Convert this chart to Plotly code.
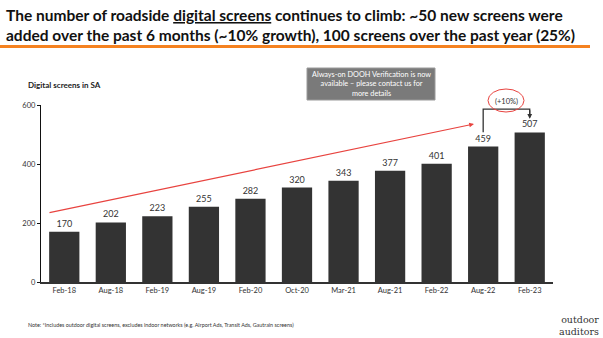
import plotly.graph_objects as go

categories = ["Feb-18", "Aug-18", "Feb-19", "Aug-19", "Feb-20", "Oct-20",
              "Mar-21", "Aug-21", "Feb-22", "Aug-22", "Feb-23"]
screens = [170, 202, 223, 255, 282, 320, 343, 377, 401, 459, 507]
y_ticks = [0, 200, 400, 600]

W, H = 603, 338
L, R, T, B = 41, 50, 105, 56
PW, PH = W - L - R, H - T - B


def px(x):
    return (x - L) / PW


def py(y):
    return (H - B - y) / PH


fig = go.Figure()
fig.add_trace(go.Bar(
    x=categories, y=screens, marker=dict(color="#333333", line=dict(width=0)),
    width=0.65, text=[str(v) for v in screens], textposition="outside",
    textfont=dict(family="Lato", size=9, color="#333333"), cliponaxis=False,
))

ann = []
# Title
ann.append(dict(xref="paper", yref="paper", x=px(4), y=py(4), xanchor="left", yanchor="top",
                align="left", showarrow=False,
                text="<b>The number of roadside <u>digital screens</u> continues to climb: ~50 new screens were<br>"
                     "added over the past 6 months (~10% growth), 100 screens over the past year (25%)</b>",
                font=dict(family="Lato", size=15.5, color="#111111")))
ann.append(dict(xref="paper", yref="paper", x=px(26), y=py(85), xanchor="left", yanchor="middle",
                showarrow=False, text="<b>Digital screens in SA</b>",
                font=dict(family="Lato", size=8, color="#222222")))
# Info box
ann.append(dict(xref="paper", yref="paper", x=px(371), y=py(84), xanchor="center", yanchor="middle",
                showarrow=False,
                text="Always-on DOOH Verification is now<br>available \u2013 please contact us for<br>more details",
                font=dict(family="Lato", size=7.3, color="#ffffff"), align="center"))
# Note
ann.append(dict(xref="paper", yref="paper", x=px(26), y=py(325), xanchor="left", yanchor="middle",
                showarrow=False,
                text="Note: *Includes outdoor digital screens, excludes indoor networks (e.g. Airport Ads, Transit Ads, Gautrain screens)",
                font=dict(family="Lato", size=5.4, color="#333333")))
# Logo
ann.append(dict(xref="paper", yref="paper", x=px(601), y=py(325), xanchor="right", yanchor="middle",
                showarrow=False, text="outdoor<br>auditors", align="right",
                font=dict(family="DejaVu Serif", size=9.5, color="#333333")))
# Growth label
ann.append(dict(xref="paper", yref="paper", x=px(506), y=py(101), xanchor="center", yanchor="middle",
                showarrow=False, text="(+10%)",
                font=dict(family="Lato", size=7.5, color="#333333")))
# Red trend arrow
ann.append(dict(xref="paper", yref="paper", x=px(474), y=py(124), ax=48 - 474, ay=213 - 124,
                axref="pixel", ayref="pixel", showarrow=True, text="",
                arrowhead=2, arrowsize=0.8, arrowwidth=1.2, arrowcolor="#e8433f"))
# Bracket arrowhead
ann.append(dict(xref="x", yref="y", x=categories[10], y=553, ax=0, ay=-10, text="",
                showarrow=True, arrowhead=2, arrowsize=0.8, arrowwidth=1.2, arrowcolor="#333333"))

shapes = []
# Orange rule under title
shapes.append(dict(type="rect", xref="paper", yref="paper", x0=px(0), x1=px(590), y0=py(48), y1=py(45),
                   fillcolor="#f58220", line=dict(width=0)))
# Info box
shapes.append(dict(type="rect", xref="paper", yref="paper", x0=px(307), x1=px(435), y0=py(100), y1=py(68),
                   fillcolor="#7a7a7a", line=dict(color="#9a9a9a", width=1)))
# Bracket
shapes.append(dict(type="path", xref="x", yref="y",
                   path="M 9,508 L 9,586 L 10,586 L 10,560",
                   line=dict(color="#333333", width=1.3)))
# Red ellipse
shapes.append(dict(type="circle", xref="paper", yref="paper", x0=px(488), x1=px(524), y0=py(112), y1=py(89),
                   line=dict(color="#e8433f", width=1)))

fig.update_layout(
    width=W, height=H, margin=dict(l=L, r=R, t=T, b=B),
    paper_bgcolor="white", plot_bgcolor="white", showlegend=False,
    annotations=ann, shapes=shapes, bargap=0.35,
    xaxis=dict(type="category", range=[-0.5, 10.5], showline=True, linecolor="#333333", linewidth=1.5,
               ticks="", tickfont=dict(family="Lato", size=7.5, color="#333333"), showgrid=False),
    yaxis=dict(range=[0, 600], tickvals=y_ticks, showline=True, linecolor="#111111", linewidth=1.2,
               ticks="outside", ticklen=3, tickcolor="#111111", showgrid=False, zeroline=False,
               tickfont=dict(family="Lato", size=7.5, color="#333333")),
)

fig.write_html("out.html")
